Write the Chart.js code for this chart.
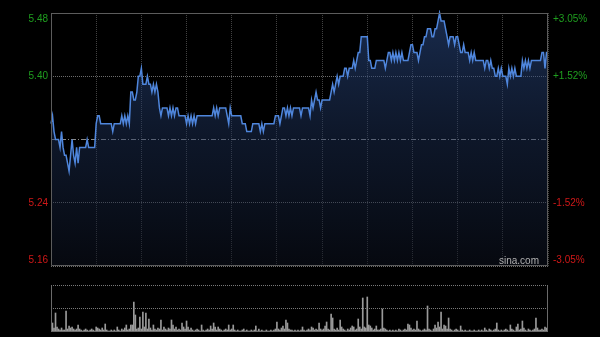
<!DOCTYPE html>
<html>
<head>
<meta charset="utf-8">
<script src="https://cdn.jsdelivr.net/npm/chart.js"></script>
<style>
  html, body { margin: 0; padding: 0; background: #000; }
  #wrap { position: relative; width: 600px; height: 337px; background: #000; overflow: hidden; }
  #priceChart { position: absolute; left: 0; top: 0; }
  #volChart { position: absolute; left: 0; top: 280px; }
  #brand { position: absolute; left: 499px; top: 255px; font: 10px "Liberation Sans", Arial, sans-serif; color: #b0b0b0; }
</style>
</head>
<body>
<div id="wrap">
  <canvas id="priceChart" width="600" height="280"></canvas>
  <canvas id="volChart" width="600" height="57"></canvas>
  <div id="brand">sina.com</div>
</div>
<script>
// Intraday price, one value per minute (HK session, 330 minutes)
const prices = [
  5.34, 5.35, 5.33, 5.32, 5.32, 5.32, 5.31, 5.33, 5.31, 5.30,
  5.30, 5.29, 5.28, 5.30, 5.32, 5.30, 5.29, 5.31, 5.29, 5.31,
  5.31, 5.31, 5.31, 5.31, 5.32, 5.31, 5.31, 5.31, 5.31, 5.31,
  5.34, 5.35, 5.35, 5.34, 5.34, 5.34, 5.34, 5.34, 5.34, 5.34,
  5.34, 5.33, 5.34, 5.34, 5.34, 5.34, 5.34, 5.35, 5.34, 5.35,
  5.34, 5.35, 5.34, 5.38, 5.38, 5.37, 5.37, 5.38, 5.40, 5.40,
  5.41, 5.39, 5.39, 5.39, 5.40, 5.39, 5.39, 5.38, 5.39, 5.38,
  5.39, 5.38, 5.36, 5.35, 5.36, 5.36, 5.36, 5.36, 5.35, 5.36,
  5.35, 5.36, 5.35, 5.36, 5.36, 5.35, 5.35, 5.35, 5.35, 5.35,
  5.34, 5.35, 5.34, 5.35, 5.34, 5.35, 5.34, 5.35, 5.35, 5.35,
  5.35, 5.35, 5.35, 5.35, 5.35, 5.35, 5.35, 5.35, 5.36, 5.35,
  5.36, 5.35, 5.36, 5.36, 5.36, 5.36, 5.36, 5.35, 5.34, 5.36,
  5.35, 5.35, 5.35, 5.35, 5.35, 5.35, 5.35, 5.34, 5.34, 5.34,
  5.33, 5.33, 5.33, 5.33, 5.34, 5.34, 5.34, 5.34, 5.34, 5.33,
  5.34, 5.33, 5.34, 5.34, 5.34, 5.34, 5.34, 5.34, 5.34, 5.35,
  5.35, 5.35, 5.34, 5.35, 5.36, 5.36, 5.35, 5.36, 5.35, 5.36,
  5.35, 5.36, 5.36, 5.36, 5.36, 5.36, 5.35, 5.36, 5.36, 5.36,
  5.36, 5.36, 5.35, 5.37, 5.36, 5.37, 5.38, 5.37, 5.37, 5.36,
  5.37, 5.37, 5.37, 5.37, 5.37, 5.37, 5.38, 5.39, 5.38, 5.39,
  5.40, 5.39, 5.40, 5.40, 5.40, 5.41, 5.41, 5.40, 5.41, 5.41,
  5.41, 5.42, 5.41, 5.42, 5.43, 5.43, 5.45, 5.45, 5.45, 5.45,
  5.45, 5.42, 5.42, 5.41, 5.41, 5.41, 5.42, 5.42, 5.42, 5.42,
  5.42, 5.42, 5.41, 5.42, 5.43, 5.43, 5.42, 5.43, 5.42, 5.43,
  5.42, 5.43, 5.42, 5.43, 5.42, 5.42, 5.42, 5.42, 5.43, 5.44,
  5.44, 5.43, 5.43, 5.43, 5.42, 5.43, 5.44, 5.44, 5.45, 5.45,
  5.46, 5.46, 5.46, 5.45, 5.45, 5.46, 5.46, 5.47, 5.48, 5.47,
  5.47, 5.47, 5.46, 5.45, 5.44, 5.45, 5.45, 5.45, 5.44, 5.45,
  5.45, 5.44, 5.43, 5.43, 5.44, 5.43, 5.43, 5.43, 5.42, 5.43,
  5.42, 5.43, 5.42, 5.42, 5.42, 5.42, 5.42, 5.42, 5.41, 5.42,
  5.42, 5.41, 5.42, 5.41, 5.41, 5.40, 5.40, 5.41, 5.40, 5.41,
  5.40, 5.40, 5.40, 5.39, 5.41, 5.40, 5.41, 5.40, 5.41, 5.40,
  5.40, 5.40, 5.40, 5.42, 5.41, 5.42, 5.41, 5.42, 5.41, 5.42,
  5.42, 5.42, 5.42, 5.42, 5.42, 5.42, 5.43, 5.43, 5.41, 5.43,
  5.43
];

// Per-minute volume (relative units, panel top = volMax)
const volumes = [
  30, 9, 4, 19, 5, 3, 2, 4, 2, 2,
  21, 3, 6, 4, 5, 3, 2, 3, 7, 3,
  2, 1, 2, 3, 2, 1, 2, 3, 2, 1,
  5, 4, 3, 2, 4, 2, 8, 2, 1, 1,
  2, 1, 2, 1, 5, 2, 1, 3, 2, 4,
  7, 2, 3, 7, 7, 30, 17, 3, 4, 15,
  3, 20, 5, 19, 3, 13, 4, 2, 7, 3,
  2, 4, 3, 12, 2, 5, 3, 2, 4, 3,
  12, 7, 3, 5, 2, 3, 2, 9, 5, 3,
  11, 5, 2, 4, 2, 1, 2, 3, 2, 1,
  7, 2, 1, 2, 3, 2, 6, 3, 9, 5,
  2, 5, 3, 2, 1, 2, 3, 2, 7, 2,
  3, 7, 2, 1, 2, 1, 1, 2, 3, 1,
  2, 1, 1, 2, 1, 2, 6, 1, 3, 1,
  2, 1, 1, 2, 1, 1, 2, 1, 2, 3,
  10, 3, 2, 4, 6, 3, 12, 9, 3, 2,
  2, 1, 2, 1, 2, 1, 2, 5, 2, 1,
  2, 3, 2, 5, 4, 2, 3, 2, 9, 3,
  2, 3, 6, 10, 3, 2, 18, 14, 3, 2,
  4, 2, 12, 5, 3, 2, 1, 3, 2, 4,
  6, 5, 2, 3, 13, 5, 3, 34, 5, 4,
  35, 7, 6, 4, 2, 3, 6, 2, 2, 3,
  23, 4, 3, 2, 1, 2, 1, 2, 1, 2,
  1, 3, 2, 1, 2, 3, 2, 8, 7, 4,
  2, 3, 2, 11, 3, 2, 1, 2, 3, 2,
  26, 3, 2, 1, 3, 7, 4, 10, 5, 20,
  3, 7, 6, 3, 14, 3, 2, 1, 2, 3,
  2, 1, 6, 2, 1, 2, 1, 1, 2, 1,
  1, 2, 1, 1, 2, 1, 2, 1, 4, 2,
  1, 3, 2, 1, 2, 3, 9, 2, 1, 2,
  1, 2, 3, 2, 1, 7, 3, 2, 1, 5,
  8, 2, 3, 11, 4, 2, 1, 3, 2, 1,
  2, 3, 14, 4, 2, 2, 3, 2, 5, 4,
  5
];

const prevClose = 5.32;
const priceTicks = [5.16, 5.24, 5.32, 5.40, 5.48];
const priceLabels = ['5.16', '5.24', '', '5.40', '5.48'];
const pctLabels = ['-3.05%', '-1.52%', '', '+1.52%', '+3.05%'];
const sessionMinutes = 330;
const volMax = 47;

const UP = '#1f9f1f';
const DOWN = '#d01818';

Chart.defaults.font.family = '"Liberation Sans", Arial, sans-serif';
Chart.defaults.font.size = 10;

// edge labels sit inside the frame, like the original
function edgeLabel(text, index, count) {
  if (index === 0) return [text, ''];
  if (index === count - 1) return ['', text];
  return text;
}

const framePlugin = {
  id: 'frame',
  afterDraw(chart, args, opts) {
    const { ctx, chartArea: a } = chart;
    const l = Math.floor(a.left) + 0.5, r = Math.floor(a.right) - 0.5;
    const t = Math.floor(a.top) + 0.5, b = Math.floor(a.bottom) - 0.5;
    ctx.save();
    ctx.strokeStyle = opts.color;
    ctx.lineWidth = 1;
    ctx.setLineDash([]);
    ctx.beginPath();
    if (opts.top) { ctx.moveTo(l, t); ctx.lineTo(r, t); }
    ctx.moveTo(l, t); ctx.lineTo(l, b);
    ctx.moveTo(r, t); ctx.lineTo(r, b);
    ctx.moveTo(l, b); ctx.lineTo(r, b);
    ctx.stroke();
    ctx.restore();
  }
};

const pricePoints = prices.map((p, i) => ({ x: i, y: p }));
const volPoints = volumes.map((v, i) => ({ x: i, y: v }));

new Chart(document.getElementById('priceChart'), {
  type: 'line',
  data: {
    datasets: [{
      data: pricePoints,
      borderColor: '#4f86dc',
      borderWidth: 1.5,
      pointRadius: 0,
      tension: 0,
      clip: 3,
      fill: 'start',
      backgroundColor: (c) => {
        const a = c.chart.chartArea;
        if (!a) return 'rgba(0,0,0,0)';
        const g = c.chart.ctx.createLinearGradient(0, a.top, 0, a.bottom);
        g.addColorStop(0, 'rgba(45,78,140,0.55)');
        g.addColorStop(0.5, 'rgba(30,50,90,0.45)');
        g.addColorStop(1, 'rgba(12,17,30,0.5)');
        return g;
      }
    }]
  },
  options: {
    responsive: false,
    animation: false,
    layout: { padding: { top: 13, bottom: 14, left: 0, right: 0 } },
    plugins: {
      legend: { display: false },
      tooltip: { enabled: false },
      frame: { color: '#5c5c5c', top: true }
    },
    scales: {
      x: {
        type: 'linear',
        min: 0,
        max: sessionMinutes,
        ticks: { display: false, stepSize: 30 },
        grid: { color: '#424242', drawTicks: false },
        border: { display: false, dash: [1, 1] },
        afterFit: (s) => { s.height = 0; }
      },
      y: {
        position: 'left',
        min: priceTicks[0],
        max: priceTicks[priceTicks.length - 1],
        afterBuildTicks: (s) => { s.ticks = priceTicks.map(v => ({ value: v })); },
        afterFit: (s) => { s.width = 51; s.paddingTop = 0; s.paddingBottom = 0; },
        ticks: {
          padding: 3,
          color: (c) => c.tick.value > prevClose ? UP : DOWN,
          callback: (v, i, ticks) => edgeLabel(priceLabels[i], i, ticks.length)
        },
        grid: {
          drawTicks: false,
          color: (c) => c.tick && c.tick.value === prevClose ? '#8a8a8a' : '#6c6c6c'
        },
        border: {
          display: false,
          dash: (c) => c.tick && c.tick.value === prevClose ? [5, 2, 1, 2] : [1, 1]
        }
      },
      y2: {
        position: 'right',
        min: priceTicks[0],
        max: priceTicks[priceTicks.length - 1],
        afterBuildTicks: (s) => { s.ticks = priceTicks.map(v => ({ value: v })); },
        afterFit: (s) => { s.width = 52; s.paddingTop = 0; s.paddingBottom = 0; },
        ticks: {
          padding: 5,
          color: (c) => c.tick.value > prevClose ? UP : DOWN,
          callback: (v, i, ticks) => edgeLabel(pctLabels[i], i, ticks.length)
        },
        grid: { display: false, drawTicks: false },
        border: { display: false }
      }
    }
  },
  plugins: [framePlugin]
});

new Chart(document.getElementById('volChart'), {
  type: 'bar',
  data: {
    datasets: [{
      data: volPoints,
      backgroundColor: '#9a9a9a',
      borderWidth: 0,
      barThickness: 1
    }]
  },
  options: {
    responsive: false,
    animation: false,
    layout: { padding: { top: 5, bottom: 5, left: 51, right: 52 } },
    plugins: {
      legend: { display: false },
      tooltip: { enabled: false },
      frame: { color: '#6a6a6a', top: false }
    },
    scales: {
      x: {
        type: 'linear',
        min: 0,
        max: sessionMinutes,
        offset: false,
        display: false
      },
      y: {
        min: 0,
        max: volMax,
        afterBuildTicks: (s) => { s.ticks = [0, volMax / 2, volMax].map(v => ({ value: v })); },
        afterFit: (s) => { s.width = 0; s.paddingTop = 0; s.paddingBottom = 0; },
        ticks: { display: false },
        grid: {
          drawTicks: false,
          color: (c) => c.tick && c.tick.value === 0 ? 'rgba(0,0,0,0)' : '#7a7a7a'
        },
        border: { display: false, dash: [1, 1] }
      }
    }
  },
  plugins: [framePlugin]
});
</script>
</body>
</html>
